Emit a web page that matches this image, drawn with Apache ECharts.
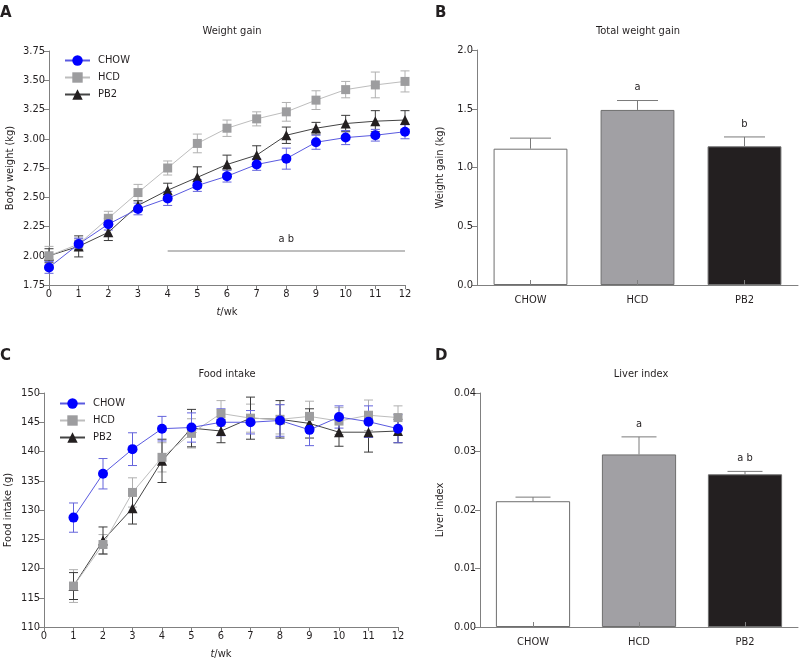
<!DOCTYPE html>
<html>
<head>
<meta charset="utf-8">
<script src="https://cdn.jsdelivr.net/npm/echarts@6/dist/echarts.min.js"></script>
<style>
html,body{margin:0;padding:0;background:#fff;}
#c{width:799px;height:663px;}
</style>
</head>
<body>
<div id="c"></div>
<script>
// ---------- Data ----------
var groups = ['CHOW', 'HCD', 'PB2'];

// Panel A: weight gain (kg) by week
var weeksA = [0, 1, 2, 3, 4, 5, 6, 7, 8, 9, 10, 11, 12];
var chowW    = [1.90, 2.10, 2.27, 2.40, 2.49, 2.60, 2.68, 2.78, 2.83, 2.97, 3.01, 3.03, 3.06];
var chowWErr = [0.05, 0.05, 0.05, 0.05, 0.06, 0.05, 0.05, 0.05, 0.09, 0.06, 0.06, 0.05, 0.06];
var hcdW     = [2.00, 2.10, 2.32, 2.54, 2.75, 2.96, 3.09, 3.17, 3.23, 3.33, 3.42, 3.46, 3.49];
var hcdWErr  = [0.08, 0.05, 0.06, 0.07, 0.06, 0.08, 0.07, 0.06, 0.08, 0.08, 0.07, 0.11, 0.09];
var pb2W     = [2.00, 2.08, 2.20, 2.43, 2.56, 2.67, 2.78, 2.86, 3.03, 3.09, 3.13, 3.15, 3.16];
var pb2WErr  = [0.06, 0.09, 0.07, 0.04, 0.06, 0.09, 0.08, 0.08, 0.07, 0.05, 0.07, 0.09, 0.08];
var abLineX = [4, 12];
var abLineY = 2.04;
var abTextPos = [8, 2.14];
var abText = 'a b';

// Panel B: total weight gain (kg)
var totalGain    = [1.16, 1.49, 1.18];
var totalGainErr = [0.09, 0.08, 0.08];
var totalGainSig = ['', 'a', 'b'];

// Panel C: food intake (g) by week
var weeksC = [1, 2, 3, 4, 5, 6, 7, 8, 9, 10, 11, 12];
var chowF    = [128.7, 136.2, 140.4, 143.9, 144.1, 145.0, 145.0, 145.3, 143.7, 145.9, 145.1, 143.9];
var chowFErr = [2.5, 2.6, 2.8, 2.1, 2.5, 2.3, 2.0, 2.7, 2.7, 1.9, 2.7, 2.4];
var hcdF     = [117.0, 124.1, 133.0, 139.0, 143.1, 146.5, 145.7, 145.5, 146.0, 145.2, 146.2, 145.8];
var hcdFErr  = [2.8, 1.7, 2.5, 2.5, 2.5, 2.2, 2.4, 2.5, 2.6, 2.3, 2.6, 2.0];
var pb2F     = [117.0, 124.8, 130.3, 138.4, 144.0, 143.5, 145.7, 145.5, 144.8, 143.3, 143.3, 143.5];
var pb2FErr  = [2.3, 2.3, 2.7, 3.7, 3.2, 2.0, 3.6, 3.2, 2.5, 2.4, 3.4, 2.0];

// Panel D: liver index
var liverIdx    = [0.0215, 0.0295, 0.0261];
var liverIdxErr = [0.0007, 0.0030, 0.0005];
var liverIdxSig = ['', 'a', 'a b'];

// Axis ticks
var yTicksA = {min: 1.75, max: 3.75, interval: 0.25};
var yTicksB = {min: 0, max: 2, interval: 0.5};
var yTicksC = {min: 110, max: 150, interval: 5};
var yTicksD = {min: 0, max: 0.04, interval: 0.01};

// ---------- Style ----------
var FONT = "'DejaVu Sans Condensed', 'DejaVu Sans', sans-serif";
var TXT = '#231f20';
var AX = '#808080';
var colChow = '#0000ff', lineChow = '#5a5ae0';
var colHcd = '#9d9d9f', lineHcd = '#bdbdbd';
var colPb2 = '#231f20', linePb2 = '#444444';
var barFill = ['#ffffff', '#a1a0a4', '#231f20'];

function zip(xs, ys) { return xs.map(function (x, i) { return [x, ys[i]]; }); }
function zip3(xs, ys, es) { return xs.map(function (x, i) { return [x, ys[i], es[i]]; }); }

function errRender(color, halfCap) {
  return function (params, api) {
    var x = api.value(0), y = api.value(1), e = api.value(2);
    var top = api.coord([x, y + e]);
    var bot = api.coord([x, y - e]);
    var st = {stroke: color, lineWidth: 1};
    return {
      type: 'group',
      children: [
        {type: 'line', shape: {x1: top[0], y1: top[1], x2: bot[0], y2: bot[1]}, style: st},
        {type: 'line', shape: {x1: top[0] - halfCap, y1: top[1], x2: top[0] + halfCap, y2: top[1]}, style: st},
        {type: 'line', shape: {x1: bot[0] - halfCap, y1: bot[1], x2: bot[0] + halfCap, y2: bot[1]}, style: st}
      ]
    };
  };
}

function barErrRender(halfCap) {
  return function (params, api) {
    var x = api.value(0), y = api.value(1), e = api.value(2);
    var base = api.coord([x, y]);
    var top = api.coord([x, y + e]);
    var st = {stroke: '#7a7a7a', lineWidth: 1};
    return {
      type: 'group',
      children: [
        {type: 'line', shape: {x1: base[0], y1: base[1], x2: top[0], y2: top[1]}, style: st},
        {type: 'line', shape: {x1: top[0] - halfCap, y1: top[1], x2: top[0] + halfCap, y2: top[1]}, style: st},
        {type: 'text', x: top[0], y: top[1] - 13,
          style: {text: api.value(3) || '', fill: TXT, font: '11px ' + FONT, align: 'center', verticalAlign: 'middle'}}
      ]
    };
  };
}

function valAxisY(idx, t, name, gap, dec) {
  return {
    type: 'value', gridIndex: idx, min: t.min, max: t.max, interval: t.interval,
    name: name, nameLocation: 'middle', nameGap: gap,
    nameTextStyle: {color: TXT, fontSize: 11, fontFamily: FONT},
    axisLine: {show: true, lineStyle: {color: AX, width: 1}},
    axisTick: {show: true, length: 5, lineStyle: {color: AX}},
    splitLine: {show: false},
    axisLabel: {color: TXT, fontSize: 11, fontFamily: FONT, margin: 4,
      formatter: function (v) { return v.toFixed(dec); }}
  };
}
function weekAxis(idx) {
  return {
    type: 'value', gridIndex: idx, min: 0, max: 12, interval: 1,
    name: '{i|t}/wk', nameLocation: 'middle', nameGap: 22,
    nameTextStyle: {color: TXT, fontSize: 11, fontFamily: FONT, rich: {i: {fontStyle: 'italic', fontSize: 11, fontFamily: FONT, color: TXT}}},
    axisLine: {show: true, lineStyle: {color: AX, width: 1}},
    axisTick: {show: true, length: 4, lineStyle: {color: AX}},
    splitLine: {show: false},
    axisLabel: {color: TXT, fontSize: 11, fontFamily: FONT, margin: 4}
  };
}
function catAxis(idx) {
  return {
    type: 'category', gridIndex: idx, data: groups, z: 4,
    axisLine: {show: true, lineStyle: {color: AX, width: 1}},
    axisTick: {show: true, inside: true, alignWithLabel: true, length: 5, lineStyle: {color: AX}},
    axisLabel: {color: TXT, fontSize: 11, fontFamily: FONT, margin: 10}
  };
}

function lineSeries(name, data, xi, sym, size, col, lcol, z) {
  return {
    type: 'line', name: name, xAxisIndex: xi, yAxisIndex: xi, data: data,
    symbol: sym, symbolSize: size, z: z,
    itemStyle: {color: col}, lineStyle: {color: lcol, width: 1}
  };
}
function errSeries(data, xi, col) {
  return {
    type: 'custom', xAxisIndex: xi, yAxisIndex: xi, data: data, z: 3, silent: true,
    renderItem: errRender(col, 4.5)
  };
}

var titleStyle = {color: TXT, fontSize: 11, fontWeight: 'normal', fontFamily: FONT};
var letterStyle = {color: TXT, fontSize: 15, fontWeight: 'bold', fontFamily: "'DejaVu Sans', sans-serif"};
var legendCommon = {data: groups, orient: 'vertical', padding: 0, itemWidth: 25, itemHeight: 13, itemGap: 6,
  textStyle: {color: TXT, fontSize: 11, fontFamily: FONT, padding: [0, 0, 0, 3]}, selectedMode: false};

var option = {
  animation: false,
  backgroundColor: '#ffffff',
  title: [
    {text: 'Weight gain', left: 227, top: 21, textAlign: 'center', textStyle: titleStyle},
    {text: 'Total weight gain', left: 633, top: 21, textAlign: 'center', textStyle: titleStyle},
    {text: 'Food intake', left: 222, top: 364, textAlign: 'center', textStyle: titleStyle},
    {text: 'Liver index', left: 636, top: 364, textAlign: 'center', textStyle: titleStyle},
    {text: 'A', left: -5, top: 1, textStyle: letterStyle},
    {text: 'B', left: 430, top: 1, textStyle: letterStyle},
    {text: 'C', left: -5, top: 344, textStyle: letterStyle},
    {text: 'D', left: 430, top: 344, textStyle: letterStyle}
  ],
  legend: [
    Object.assign({left: 64, top: 55}, legendCommon),
    Object.assign({left: 59, top: 398}, legendCommon)
  ],
  grid: [
    {left: 49, top: 51, width: 356, height: 234},
    {left: 477, top: 50, width: 321, height: 235},
    {left: 44, top: 393, width: 354, height: 234},
    {left: 480, top: 393, width: 318, height: 234}
  ],
  xAxis: [weekAxis(0), catAxis(1), weekAxis(2), catAxis(3)],
  yAxis: [
    valAxisY(0, yTicksA, 'Body weight (kg)', 33, 2),
    valAxisY(1, yTicksB, 'Weight gain (kg)', 31, 1),
    valAxisY(2, yTicksC, 'Food intake (g)', 30, 0),
    valAxisY(3, yTicksD, 'Liver index', 34, 2)
  ],
  series: [
    // Panel A
    errSeries(zip3(weeksA, hcdW, hcdWErr), 0, '#b0b0b0'),
    errSeries(zip3(weeksA, pb2W, pb2WErr), 0, '#3a3a3a'),
    errSeries(zip3(weeksA, chowW, chowWErr), 0, '#6464dc'),
    lineSeries('CHOW', zip(weeksA, chowW), 0, 'circle', 10, colChow, lineChow, 7),
    lineSeries('HCD', zip(weeksA, hcdW), 0, 'rect', 9, colHcd, lineHcd, 6),
    lineSeries('PB2', zip(weeksA, pb2W), 0, 'triangle', 10, colPb2, linePb2, 5),
    {type: 'line', xAxisIndex: 0, yAxisIndex: 0, silent: true, symbol: 'none', z: 2,
      data: abLineX.map(function (x) { return [x, abLineY]; }),
      lineStyle: {color: '#a8a8a8', width: 1.5}},
    {type: 'custom', xAxisIndex: 0, yAxisIndex: 0, silent: true, data: [abTextPos],
      renderItem: function (p, api) {
        var c = api.coord([api.value(0), api.value(1)]);
        return {type: 'text', x: c[0], y: c[1], style: {text: abText, fill: TXT, font: '11px ' + FONT, align: 'center', verticalAlign: 'middle'}};
      }},
    // Panel B
    {type: 'bar', xAxisIndex: 1, yAxisIndex: 1, barWidth: '69%', z: 2,
      data: totalGain.map(function (v, i) { return {value: v, itemStyle: {color: barFill[i]}}; }),
      itemStyle: {borderColor: '#6e6e6e', borderWidth: 1}},
    {type: 'custom', xAxisIndex: 1, yAxisIndex: 1, silent: true, z: 3,
      data: totalGain.map(function (v, i) { return [i, v, totalGainErr[i], totalGainSig[i]]; }),
      renderItem: barErrRender(20.5)},
    // Panel C
    errSeries(zip3(weeksC, hcdF, hcdFErr), 2, '#b0b0b0'),
    errSeries(zip3(weeksC, pb2F, pb2FErr), 2, '#3a3a3a'),
    errSeries(zip3(weeksC, chowF, chowFErr), 2, '#6464dc'),
    lineSeries('CHOW', zip(weeksC, chowF), 2, 'circle', 10, colChow, lineChow, 7),
    lineSeries('HCD', zip(weeksC, hcdF), 2, 'rect', 9, colHcd, lineHcd, 6),
    lineSeries('PB2', zip(weeksC, pb2F), 2, 'triangle', 10, colPb2, linePb2, 5),
    // Panel D
    {type: 'bar', xAxisIndex: 3, yAxisIndex: 3, barWidth: '70%', z: 2,
      data: liverIdx.map(function (v, i) { return {value: v, itemStyle: {color: barFill[i]}}; }),
      itemStyle: {borderColor: '#6e6e6e', borderWidth: 1}},
    {type: 'custom', xAxisIndex: 3, yAxisIndex: 3, silent: true, z: 3,
      data: liverIdx.map(function (v, i) { return [i, v, liverIdxErr[i], liverIdxSig[i]]; }),
      renderItem: barErrRender(17.5)}
  ]
};

var chart = echarts.init(document.getElementById('c'), null, {renderer: 'canvas'});
chart.setOption(option);
</script>
</body>
</html>
